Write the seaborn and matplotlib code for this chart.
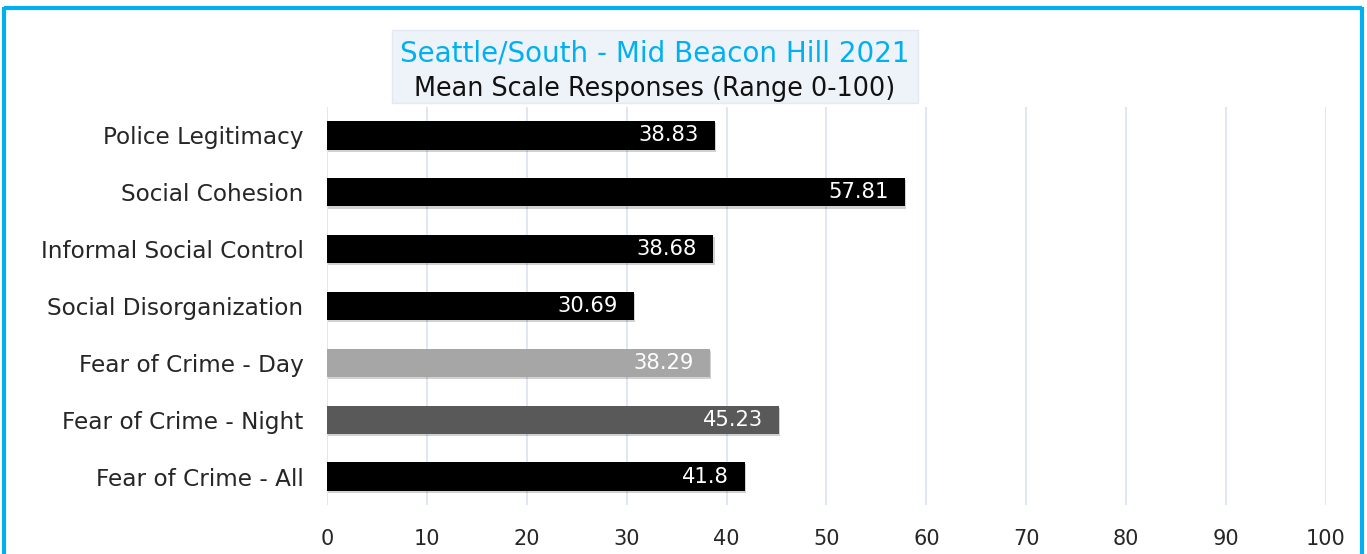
import matplotlib
matplotlib.use("Agg")
import matplotlib.pyplot as plt
from matplotlib.patches import Rectangle
from matplotlib.lines import Line2D
import matplotlib.patheffects as pe
import seaborn as sns
import pandas as pd

categories = [
    "Police Legitimacy",
    "Social Cohesion",
    "Informal Social Control",
    "Social Disorganization",
    "Fear of Crime - Day",
    "Fear of Crime - Night",
    "Fear of Crime - All",
]
values = [38.83, 57.81, 38.68, 30.69, 38.29, 45.23, 41.8]
value_labels = ["38.83", "57.81", "38.68", "30.69", "38.29", "45.23", "41.8"]
bar_colors = ["#000000", "#000000", "#000000", "#000000", "#A6A6A6", "#595959", "#000000"]
x_ticks = [0, 10, 20, 30, 40, 50, 60, 70, 80, 90, 100]
title_line1 = "Seattle/South - Mid Beacon Hill 2021"
title_line2 = "Mean Scale Responses (Range 0-100)"

sns.set_theme(style="white")
plt.rcParams["font.family"] = ["DejaVu Sans"]

df = pd.DataFrame({"category": categories, "value": values})

fig = plt.figure(figsize=(13.67, 5.54), dpi=100)
ax = fig.add_axes([0.2392, 0.0884, 0.7308, 0.7186])

sns.barplot(
    data=df, x="value", y="category", hue="category",
    palette=bar_colors, order=categories, hue_order=categories,
    width=0.5, legend=False, ax=ax, saturation=1,
)

# soft drop shadow under each bar
for patch in ax.patches:
    patch.set_edgecolor("none")
    patch.set_zorder(2)
    patch.set_path_effects([
        pe.SimplePatchShadow(offset=(1, -1.5), shadow_rgbFace="#000000", alpha=0.18),
        pe.Normal(),
    ])

ax.set_xlim(0, 100)
ax.set_ylim(len(categories) - 0.5, -0.5)
ax.set_xticks(x_ticks)
ax.set_xticklabels([str(t) for t in x_ticks], fontsize=15, color="#262626")
ax.tick_params(axis="x", length=0, pad=17)
ax.tick_params(axis="y", length=0, pad=17)
for lbl in ax.get_yticklabels():
    lbl.set_fontsize(16.7)
    lbl.set_color("#262626")
ax.set_xlabel("")
ax.set_ylabel("")
ax.xaxis.grid(True, color="#D9E1F2", linewidth=1.2)
ax.set_axisbelow(True)
for s in ax.spines.values():
    s.set_visible(False)

for i, (v, txt) in enumerate(zip(values, value_labels)):
    ax.text(v - 1.6, i, txt, ha="right", va="center", color="white",
            fontsize=15.2, zorder=10)

# title box
fig.patches.append(Rectangle((392 / 1367, 1 - 103 / 554), (918 - 392) / 1367, (103 - 30) / 554,
                             transform=fig.transFigure, facecolor="#EEF2F9",
                             edgecolor="#E3E9F4", linewidth=1, zorder=5))
fig.text(655 / 1367, 1 - 53 / 554, title_line1, ha="center", va="center",
         fontsize=20, color="#00B0F0", zorder=6)
fig.text(655 / 1367, 1 - 89 / 554, title_line2, ha="center", va="center",
         fontsize=18.4, color="#111111", zorder=6)

# outer frame
frame_kw = dict(transform=fig.transFigure, color="#00B0F0", linewidth=3, solid_capstyle="butt")
fig.lines.append(Line2D([4 / 1367, 4 / 1367], [0, 1 - 7 / 554], **frame_kw))
fig.lines.append(Line2D([4 / 1367, 1362 / 1367], [1 - 8 / 554, 1 - 8 / 554], **frame_kw))
fig.lines.append(Line2D([1362 / 1367, 1362 / 1367], [0, 1 - 7 / 554], **frame_kw))

fig.savefig("out.png", dpi=100)
